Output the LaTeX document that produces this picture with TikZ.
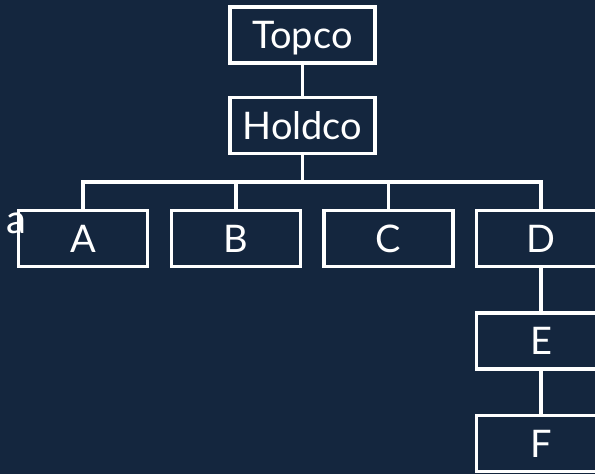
\documentclass[tikz,border=0pt]{standalone}
\usepackage{fontspec}
\setmainfont{Lato}
\definecolor{navy}{RGB}{20,38,62}

\begin{document}
\begin{tikzpicture}[x=1pt, y=-1pt,
        entity/.style={draw=white, line width=3.2pt, fill=navy, text=white,
            minimum width=129pt, minimum height=56pt, inner sep=0pt,
            text height=27pt, text depth=0pt,
            font=\fontsize{38}{42}\selectfont},
        top/.style={entity, minimum width=145pt},
        wire/.style={draw=white, line width=3.2pt}]
                % Background and frame:
                \fill[navy] (0, 0) rectangle (595, 474);
                \useasboundingbox (0, 0) rectangle (595, 474);
                % Entities:
                \node[top] (topco) at (302.5, 35) {Topco};
                \node[top] (holdco) at (302.5, 125.5) {Holdco};
                \node[entity] (a) at (83, 238.5) {A};
                \node[entity] (b) at (236, 238.5) {B};
                \node[entity] (c) at (388.5, 238.5) {C};
                \node[entity] (d) at (541, 238.5) {D};
                \node[entity] (e) at (541, 341) {E};
                \node[entity] (f) at (541, 443.5) {F};
                \node[text=white, inner sep=0pt, font=\fontsize{40}{44}\selectfont] (stray) at (16, 223) {a};
                \coordinate (bus) at (302.5, 182);
                % Ownership lines:
                \draw[wire] (topco) -- (holdco);
                \draw[wire] (holdco) -- (holdco |- bus);
                \draw[wire] (a.north) -- (a.north |- bus) -- (d.north |- bus) -- (d.north);
                \draw[wire] (b.north) -- (b.north |- bus);
                \draw[wire] (c.north) -- (c.north |- bus);
                \draw[wire] (d) -- (e);
                \draw[wire] (e) -- (f);
            \end{tikzpicture}
\end{document}
